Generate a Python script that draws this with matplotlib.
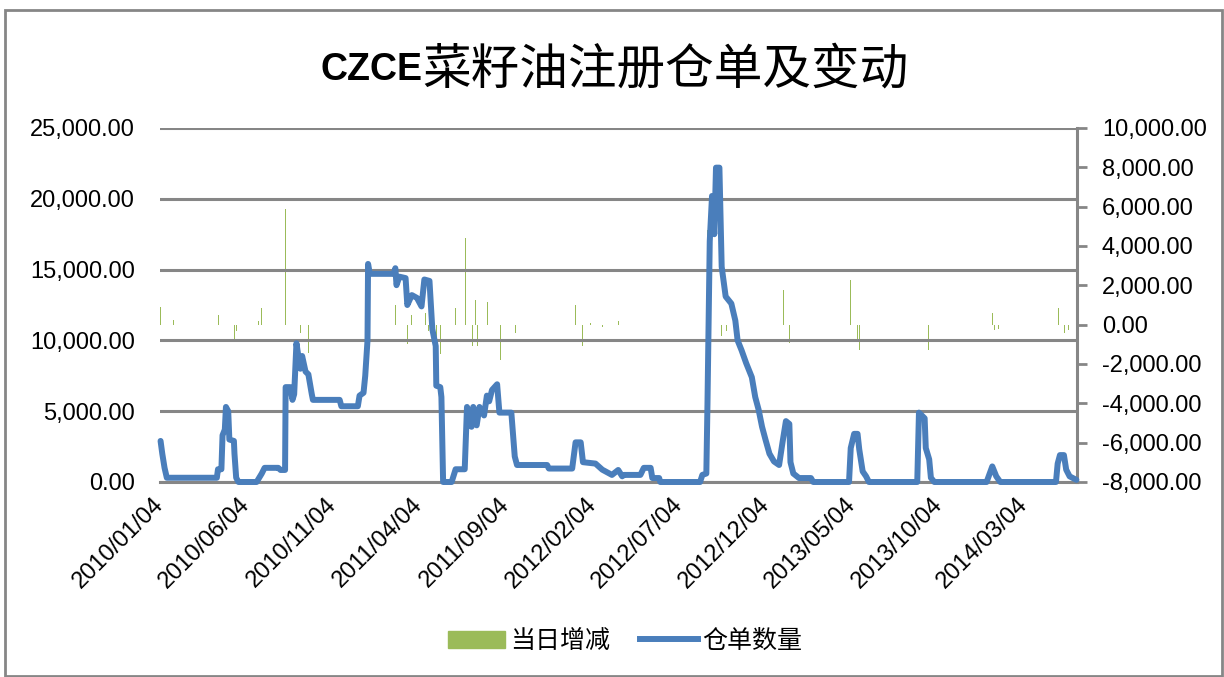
import matplotlib
matplotlib.use("Agg")
import matplotlib.pyplot as plt
import matplotlib.ticker as mticker
from matplotlib.patches import Patch, Rectangle
from matplotlib.lines import Line2D
import pandas as pd

plt.rcParams['font.family'] = ['Liberation Sans', 'Noto Sans CJK SC']

# 仓单数量 (left axis) - readings at the turning points of the line
stock_dates = [
    "2010-01-04", "2010-01-05", "2010-01-07", "2010-01-11", "2010-01-15", "2010-04-13",
    "2010-04-15", "2010-04-21", "2010-04-23", "2010-04-27", "2010-04-29", "2010-05-03",
    "2010-05-05", "2010-05-13", "2010-05-14", "2010-05-17", "2010-05-21", "2010-06-22",
    "2010-07-01", "2010-07-06", "2010-07-30", "2010-08-03", "2010-08-11", "2010-08-12",
    "2010-08-20", "2010-08-24", "2010-08-27", "2010-08-31", "2010-09-03", "2010-09-07",
    "2010-09-10", "2010-09-16", "2010-09-21", "2010-09-27", "2010-09-29", "2010-11-15",
    "2010-11-18", "2010-12-17", "2010-12-20", "2010-12-27", "2010-12-30", "2011-01-03",
    "2011-01-04", "2011-01-07", "2011-02-18", "2011-02-21", "2011-02-23", "2011-02-28",
    "2011-03-11", "2011-03-14", "2011-03-22", "2011-03-31", "2011-04-08", "2011-04-13",
    "2011-04-22", "2011-04-27", "2011-05-03", "2011-05-04", "2011-05-11", "2011-05-13",
    "2011-05-16", "2011-05-31", "2011-06-07", "2011-06-23", "2011-06-27", "2011-06-30",
    "2011-07-05", "2011-07-08", "2011-07-14", "2011-07-19", "2011-07-27", "2011-08-01",
    "2011-08-05", "2011-08-10", "2011-08-19", "2011-08-23", "2011-09-13", "2011-09-19",
    "2011-09-23", "2011-11-15", "2011-11-18", "2011-12-29", "2012-01-04", "2012-01-13",
    "2012-01-17", "2012-02-08", "2012-02-20", "2012-03-08", "2012-03-19", "2012-03-26",
    "2012-03-29", "2012-04-27", "2012-05-03", "2012-05-15", "2012-05-18", "2012-05-30",
    "2012-06-01", "2012-08-10", "2012-08-14", "2012-08-21", "2012-08-23", "2012-08-27",
    "2012-08-31", "2012-09-04", "2012-09-07", "2012-09-13", "2012-09-17", "2012-09-24",
    "2012-10-04", "2012-10-11", "2012-10-15", "2012-10-22", "2012-10-30", "2012-11-09",
    "2012-11-15", "2012-11-21", "2012-11-27", "2012-12-03", "2012-12-10", "2012-12-18",
    "2012-12-27", "2013-01-02", "2013-01-08", "2013-01-14", "2013-01-16", "2013-01-21",
    "2013-01-31", "2013-02-21", "2013-02-25", "2013-04-29", "2013-05-02", "2013-05-08",
    "2013-05-14", "2013-05-17", "2013-05-23", "2013-05-29", "2013-06-03", "2013-08-27",
    "2013-08-30", "2013-09-09", "2013-09-11", "2013-09-17", "2013-09-20", "2013-09-26",
    "2013-12-27", "2014-01-06", "2014-01-13", "2014-01-20", "2014-04-28", "2014-05-01",
    "2014-05-05", "2014-05-12", "2014-05-16", "2014-05-22", "2014-06-03",
]
stock_values = [
    2900, 2600, 2000, 1000, 300, 300,
    900, 900, 3300, 3700, 5300, 5000,
    3000, 2900, 2000, 300, 0, 0,
    600, 1000, 1000, 850, 850, 6700,
    6700, 5800, 6200, 9800, 9000, 8000,
    8900, 7800, 7600, 6200, 5800, 5800,
    5350, 5350, 6100, 6300, 7500, 10000,
    15400, 14700, 14700, 15100, 13900, 14500,
    14400, 12500, 13200, 13000, 12400, 14300,
    14200, 10800, 9600, 6800, 6700, 6000,
    0, 0, 900, 900, 5300, 5000,
    3900, 5300, 4000, 5300, 4700, 6100,
    5700, 6500, 6900, 4900, 4900, 1800,
    1200, 1200, 950, 950, 2800, 2800,
    1400, 1300, 870, 500, 850, 400,
    500, 500, 1000, 1000, 280, 280,
    0, 0, 500, 600, 5500, 17000,
    20200, 17500, 22200, 22200, 15200, 13100,
    12600, 11400, 10000, 9300, 8400, 7400,
    6000, 5100, 3900, 3000, 2000, 1450,
    1200, 2800, 4300, 4100, 1400, 600,
    280, 280, 0, 0, 2400, 3400,
    3400, 2300, 750, 400, 0, 0,
    4900, 4500, 2400, 1600, 300, 0,
    0, 1100, 400, 0, 0, 1300,
    1900, 1900, 870, 400, 150,
]

# 当日增减 (right axis)
change_dates = [
    "2010-01-04", "2010-01-05", "2010-01-08", "2010-01-12", "2010-01-27", "2010-04-01",
    "2010-04-16", "2010-04-22", "2010-04-27", "2010-04-29", "2010-05-04", "2010-05-10",
    "2010-05-14", "2010-05-18", "2010-05-27", "2010-06-25", "2010-07-01", "2010-07-26",
    "2010-08-12", "2010-08-23", "2010-08-27", "2010-09-01", "2010-09-07", "2010-09-13",
    "2010-09-21", "2010-09-27", "2010-11-19", "2010-12-17", "2010-12-24", "2010-12-31",
    "2011-01-04", "2011-02-21", "2011-02-24", "2011-03-14", "2011-03-21", "2011-03-29",
    "2011-04-07", "2011-04-15", "2011-04-20", "2011-04-27", "2011-05-04", "2011-05-11",
    "2011-06-07", "2011-06-24", "2011-07-07", "2011-07-12", "2011-07-15", "2011-07-25",
    "2011-08-02", "2011-08-10", "2011-08-19", "2011-08-25", "2011-09-14", "2011-09-20",
    "2011-11-18", "2012-01-04", "2012-01-16", "2012-01-30", "2012-02-20", "2012-03-19",
    "2012-03-22", "2012-03-26", "2012-05-07", "2012-05-14", "2012-08-13", "2012-08-23",
    "2012-08-27", "2012-08-31", "2012-09-07", "2012-09-12", "2012-09-17", "2012-09-19",
    "2012-09-21", "2012-09-25", "2012-10-09", "2012-10-16", "2012-10-23", "2012-10-30",
    "2012-11-06", "2012-11-13", "2012-11-20", "2012-11-27", "2012-12-04", "2012-12-11",
    "2012-12-18", "2012-12-25", "2013-01-04", "2013-01-08", "2013-01-14", "2013-02-25",
    "2013-05-02", "2013-05-08", "2013-05-14", "2013-05-17", "2013-05-27", "2013-08-30",
    "2013-09-10", "2013-09-16", "2013-09-24", "2014-01-06", "2014-01-10", "2014-01-17",
    "2014-05-02", "2014-05-13", "2014-05-20",
]
change_values = [
    900, -300, -600, -400, 240, 150,
    500, 1600, 700, 1700, -1300, -1300,
    -900, -300, 100, 200, 830, 150,
    5900, -400, 300, 4000, -400, -300,
    -1450, -400, -350, 850, 400, 1500,
    4400, 1000, -400, -1000, 500, -250,
    -300, 600, -300, -600, -1200, -1500,
    830, 4400, -1100, 1250, -1100, -300,
    1170, 500, 300, -1800, -2300, -400,
    -200, 1000, -1100, 100, -100, 200,
    150, -150, 150, -600, 400, 4800,
    6000, 3500, 2000, -3660, -600, -450,
    -400, -300, -200, -400, -250, -350,
    -300, -200, -500, -300, -250, -200,
    -150, -200, 1760, 1250, -940, -100,
    2270, 1250, -780, -1290, -300, 4470,
    -600, -1290, -100, 610, -250, -200,
    830, -440, -250,
]

tick_labels = ["2010/01/04", "2010/06/04", "2010/11/04", "2011/04/04", "2011/09/04", "2012/02/04",
               "2012/07/04", "2012/12/04", "2013/05/04", "2013/10/04", "2014/03/04"]

grey = '#868686'
fig = plt.figure(figsize=(12.24, 6.77), dpi=100)
fig.patches.append(Rectangle((0.004, 0.002), 0.994, 0.983, transform=fig.transFigure,
                             fill=False, edgecolor=grey, lw=2))

ax = fig.add_axes([160 / 1224, 1 - 482 / 677, 917 / 1224, 354 / 677])
ax2 = ax.twinx()

ax2.bar(pd.to_datetime(change_dates), change_values, width=1.0, color='#9BBB59', linewidth=0)
ax.plot(pd.to_datetime(stock_dates), stock_values, color='#4A7EBB', lw=4.3, zorder=3,
        solid_joinstyle='round', solid_capstyle='round', clip_on=False)
ax.set_zorder(ax2.get_zorder() + 1)
ax.patch.set_visible(False)

ax.set_xlim(pd.Timestamp("2010-01-03"), pd.Timestamp("2014-06-04"))
ax.set_ylim(0, 25000)
ax2.set_ylim(-8000, 10000)
ax.set_yticks(range(0, 25001, 5000))
ax2.set_yticks(range(-8000, 10001, 2000))
fmt = mticker.FuncFormatter(lambda v, p: f"{v:,.2f}")
ax.yaxis.set_major_formatter(fmt)
ax2.yaxis.set_major_formatter(fmt)

ax.set_xticks(pd.to_datetime(tick_labels, format="%Y/%m/%d"))
ax.set_xticklabels(tick_labels, rotation=45, ha='right', va='center', rotation_mode='anchor')
ax.tick_params(axis='x', length=0, pad=14, labelsize=17)
ax.tick_params(axis='y', length=0, pad=18, labelsize=17)
ax2.tick_params(axis='y', direction='out', length=7, width=2, color=grey, pad=11, labelsize=17)

ax.grid(axis='y', color=grey, lw=2.2)
ax.grid(axis='x', visible=False)
for s in ['left', 'top', 'right']:
    ax.spines[s].set_visible(False)
    ax2.spines[s if s != 'right' else 'bottom'].set_visible(False)
ax.spines['bottom'].set_color(grey)
ax.spines['bottom'].set_linewidth(2.2)
ax2.spines['right'].set_color(grey)
ax2.spines['right'].set_linewidth(2.2)

fig.text(422 / 1224, 1 - 70 / 677, "CZCE", ha='right', va='center', fontsize=27,
         fontweight='bold', family='Liberation Sans')
fig.text(422 / 1224, 1 - 70 / 677, "菜籽油注册仓单及变动", ha='left', va='center', fontsize=35,
         family='Noto Sans CJK SC')

handles = [Patch(color='#9BBB59'), Line2D([0], [0], color='#4A7EBB', lw=4.3)]
fig.legend(handles, ["当日增减", "仓单数量"], loc='center', bbox_to_anchor=(625 / 1224, 1 - 641 / 677),
           ncol=2, frameon=False, prop={'family': 'Noto Sans CJK SC', 'size': 18},
           handlelength=2.3, handletextpad=0.2, columnspacing=1.2)

fig.savefig("out.png", dpi=100)
